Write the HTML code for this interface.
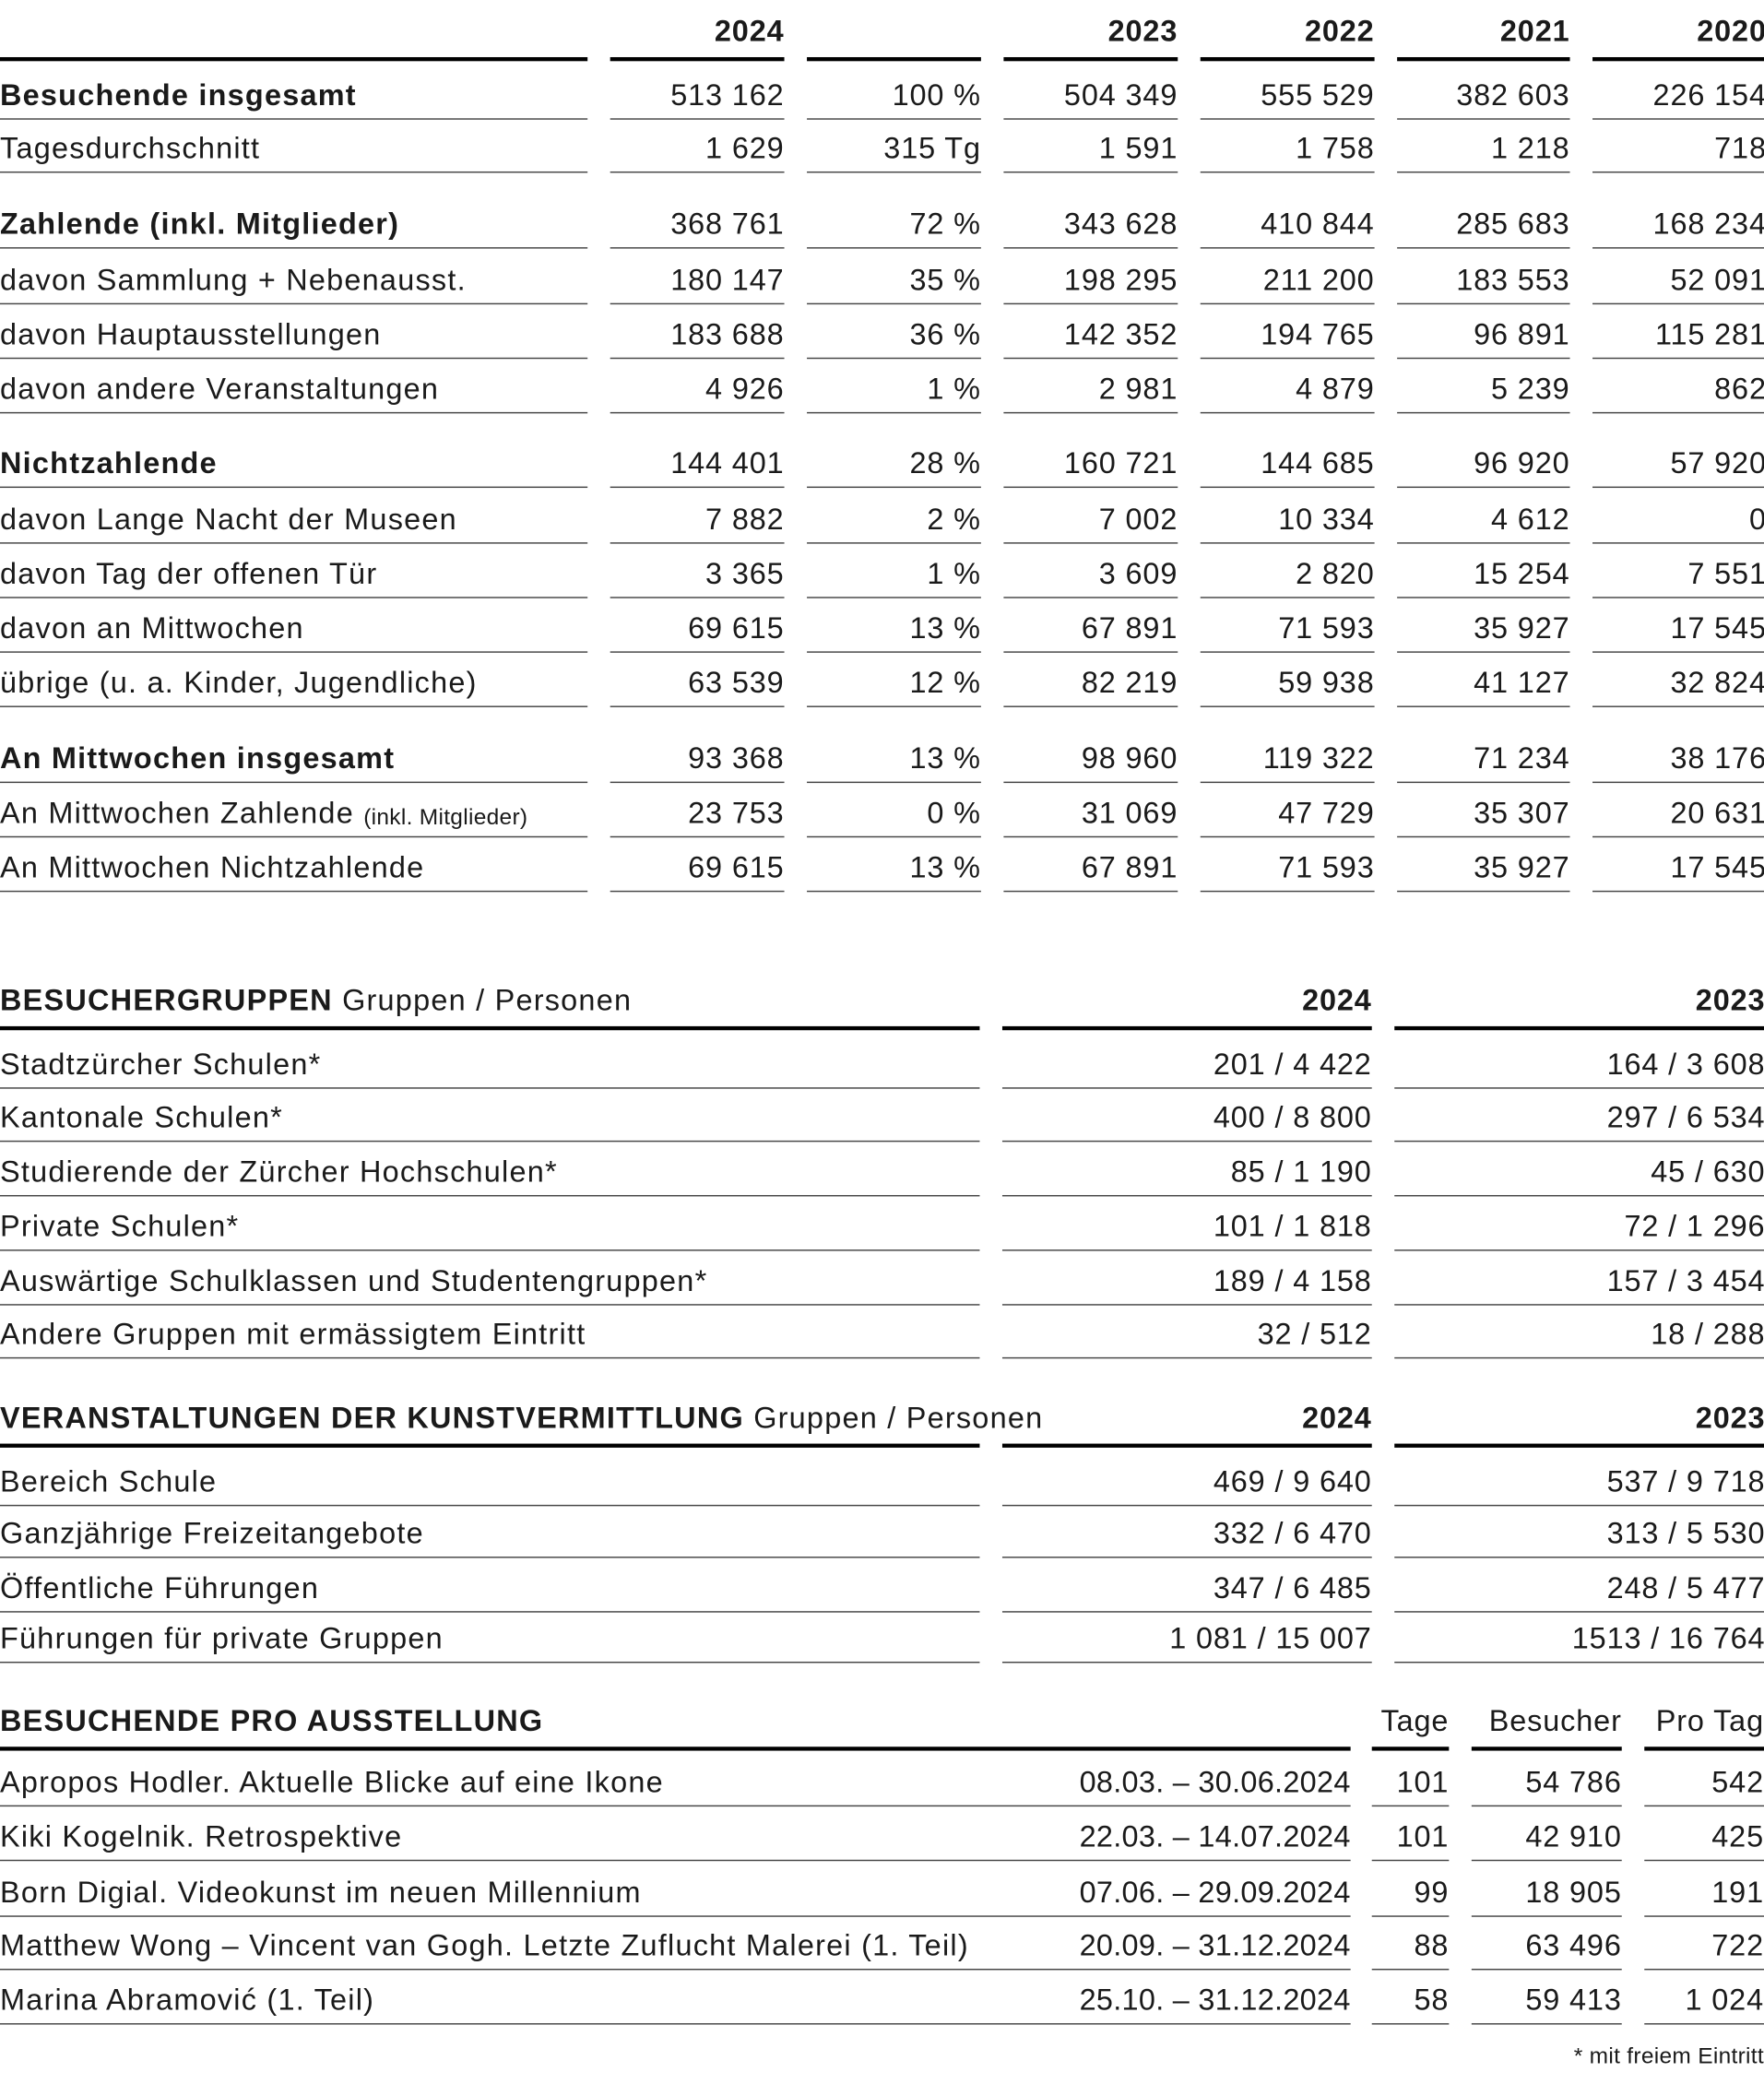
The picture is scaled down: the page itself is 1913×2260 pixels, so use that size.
<!DOCTYPE html>
<html><head><meta charset="utf-8"><style>
html,body{margin:0;padding:0;background:#fff;}
body{width:1913px;height:2260px;overflow:hidden;position:relative;}
#w{position:absolute;left:0;top:0;width:1327px;height:1568px;transform:scale(1.44159);transform-origin:0 0;font-family:"Liberation Sans",sans-serif;color:#1a1a1a;font-size:22.5px;letter-spacing:0.6px;}
.r{position:absolute;left:0;display:flex;height:40px;}
.r>div{box-sizing:border-box;height:40px;border-bottom:1.6px solid #444;display:flex;align-items:flex-end;justify-content:flex-end;padding-bottom:6px;line-height:1;white-space:nowrap;}
.r>div:first-child{justify-content:flex-start;letter-spacing:0.85px;}
.r>div+div{margin-left:17px;}
.t1>div{width:131px;} .t1>div:first-child{width:442px;}
.t1>div:nth-child(6){width:130px;}
.t2>div{width:278px;} .t2>div:first-child{width:737px;} .t2>div:last-child{width:279px;}
.h>div{border-bottom:3.5px solid #000;padding-bottom:8px;}
.b{font-weight:bold;}
.t4>div:nth-child(1){width:1016px;justify-content:space-between;}
.t4>div:nth-child(1) span+span{letter-spacing:0.2px;}
.t4>div:nth-child(2){width:58px;margin-left:16px;}
.t4>div:nth-child(3){width:113px;}
.t4>div:nth-child(4){width:90px;margin-left:17px;}
.sm{font-size:17px;letter-spacing:0.2px;}
</style></head><body><div id="w">

<div class="r t1 h b" style="top:6px"><div></div><div>2024</div><div></div><div>2023</div><div>2022</div><div>2021</div><div>2020</div></div>
<div class="r t1" style="top:50px"><div class="b">Besuchende insgesamt</div><div>513 162</div><div>100 %</div><div>504 349</div><div>555 529</div><div>382 603</div><div>226 154</div></div>
<div class="r t1" style="top:90px"><div>Tagesdurchschnitt</div><div>1 629</div><div>315 Tg</div><div>1 591</div><div>1 758</div><div>1 218</div><div>718</div></div>
<div class="r t1" style="top:147px"><div class="b">Zahlende (inkl. Mitglieder)</div><div>368 761</div><div>72 %</div><div>343 628</div><div>410 844</div><div>285 683</div><div>168 234</div></div>
<div class="r t1" style="top:189px"><div>davon Sammlung + Nebenausst.</div><div>180 147</div><div>35 %</div><div>198 295</div><div>211 200</div><div>183 553</div><div>52 091</div></div>
<div class="r t1" style="top:230px"><div>davon Hauptausstellungen</div><div>183 688</div><div>36 %</div><div>142 352</div><div>194 765</div><div>96 891</div><div>115 281</div></div>
<div class="r t1" style="top:271px"><div>davon andere Veranstaltungen</div><div>4 926</div><div>1 %</div><div>2 981</div><div>4 879</div><div>5 239</div><div>862</div></div>
<div class="r t1" style="top:327px"><div class="b">Nichtzahlende</div><div>144 401</div><div>28 %</div><div>160 721</div><div>144 685</div><div>96 920</div><div>57 920</div></div>
<div class="r t1" style="top:369px"><div>davon Lange Nacht der Museen</div><div>7 882</div><div>2 %</div><div>7 002</div><div>10 334</div><div>4 612</div><div>0</div></div>
<div class="r t1" style="top:410px"><div>davon Tag der offenen Tür</div><div>3 365</div><div>1 %</div><div>3 609</div><div>2 820</div><div>15 254</div><div>7 551</div></div>
<div class="r t1" style="top:451px"><div>davon an Mittwochen</div><div>69 615</div><div>13 %</div><div>67 891</div><div>71 593</div><div>35 927</div><div>17 545</div></div>
<div class="r t1" style="top:492px"><div>übrige (u. a. Kinder, Jugendliche)</div><div>63 539</div><div>12 %</div><div>82 219</div><div>59 938</div><div>41 127</div><div>32 824</div></div>
<div class="r t1" style="top:549px"><div class="b">An Mittwochen insgesamt</div><div>93 368</div><div>13 %</div><div>98 960</div><div>119 322</div><div>71 234</div><div>38 176</div></div>
<div class="r t1" style="top:590px"><div>An Mittwochen Zahlende&nbsp;<span class="sm">(inkl. Mitglieder)</span></div><div>23 753</div><div>0 %</div><div>31 069</div><div>47 729</div><div>35 307</div><div>20 631</div></div>
<div class="r t1" style="top:631px"><div>An Mittwochen Nichtzahlende</div><div>69 615</div><div>13 %</div><div>67 891</div><div>71 593</div><div>35 927</div><div>17 545</div></div>

<div class="r t2 h" style="top:735px"><div><span class="b">BESUCHERGRUPPEN</span>&nbsp;Gruppen / Personen</div><div class="b">2024</div><div class="b">2023</div></div>
<div class="r t2" style="top:779px"><div>Stadtzürcher Schulen*</div><div>201 / 4 422</div><div>164 / 3 608</div></div>
<div class="r t2" style="top:819px"><div>Kantonale Schulen*</div><div>400 / 8 800</div><div>297 / 6 534</div></div>
<div class="r t2" style="top:860px"><div>Studierende der Zürcher Hochschulen*</div><div>85 / 1 190</div><div>45 / 630</div></div>
<div class="r t2" style="top:901px"><div>Private Schulen*</div><div>101 / 1 818</div><div>72 / 1 296</div></div>
<div class="r t2" style="top:942px"><div>Auswärtige Schulklassen und Studentengruppen*</div><div>189 / 4 158</div><div>157 / 3 454</div></div>
<div class="r t2" style="top:982px"><div>Andere Gruppen mit ermässigtem Eintritt</div><div>32 / 512</div><div>18 / 288</div></div>

<div class="r t2 h" style="top:1049px"><div><span class="b">VERANSTALTUNGEN DER KUNSTVERMITTLUNG</span>&nbsp;Gruppen / Personen</div><div class="b">2024</div><div class="b">2023</div></div>
<div class="r t2" style="top:1093px"><div>Bereich Schule</div><div>469 / 9 640</div><div>537 / 9 718</div></div>
<div class="r t2" style="top:1132px"><div>Ganzjährige Freizeitangebote</div><div>332 / 6 470</div><div>313 / 5 530</div></div>
<div class="r t2" style="top:1173px"><div>Öffentliche Führungen</div><div>347 / 6 485</div><div>248 / 5 477</div></div>
<div class="r t2" style="top:1211px"><div>Führungen für private Gruppen</div><div>1 081 / 15 007</div><div>1513 / 16 764</div></div>

<div class="r t4 h" style="top:1277px"><div class="b">BESUCHENDE PRO AUSSTELLUNG</div><div>Tage</div><div>Besucher</div><div>Pro Tag</div></div>
<div class="r t4" style="top:1319px"><div><span>Apropos Hodler. Aktuelle Blicke auf eine Ikone</span><span>08.03. – 30.06.2024</span></div><div>101</div><div>54 786</div><div>542</div></div>
<div class="r t4" style="top:1360px"><div><span>Kiki Kogelnik. Retrospektive</span><span>22.03. – 14.07.2024</span></div><div>101</div><div>42 910</div><div>425</div></div>
<div class="r t4" style="top:1402px"><div><span>Born Digial. Videokunst im neuen Millennium</span><span>07.06. – 29.09.2024</span></div><div>99</div><div>18 905</div><div>191</div></div>
<div class="r t4" style="top:1442px"><div><span>Matthew Wong – Vincent van Gogh. Letzte Zuflucht Malerei (1. Teil)</span><span>20.09. – 31.12.2024</span></div><div>88</div><div>63 496</div><div>722</div></div>
<div class="r t4" style="top:1483px"><div><span>Marina Abramović (1. Teil)</span><span>25.10. – 31.12.2024</span></div><div>58</div><div>59 413</div><div>1 024</div></div>

<div style="position:absolute;right:0;top:1537px;font-size:17px;letter-spacing:0.2px;">* mit freiem Eintritt</div>
</div></body></html>
